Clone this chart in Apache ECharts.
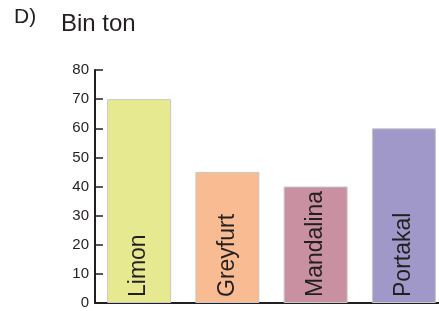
<!DOCTYPE html>
<html>
<head>
<meta charset="utf-8">
<script src="https://cdn.jsdelivr.net/npm/echarts@6/dist/echarts.min.js"></script>
<style>
  html, body { margin: 0; padding: 0; background: #fff; overflow: hidden; }
  /* the plot runs past the right edge of the picture, so the div is wider than the window */
  #chart { width: 448px; height: 311px; }
</style>
</head>
<body>
<div id="chart"></div>
<script>
// meyve adlari ve degerleri (bin ton)
var categories = ['Limon', 'Greyfurt', 'Mandalina', 'Portakal'];
var values = [70, 45, 40, 60];
var barColors = ['#e6e98f', '#f9bc92', '#c890a1', '#9f98c9'];
var yTicks = [0, 10, 20, 30, 40, 50, 60, 70, 80];

var chart = echarts.init(document.getElementById('chart'));
var ink = '#231f20';

chart.setOption({
  animation: false,
  graphic: [
    { type: 'text', left: 14, top: 7, style: { text: 'D)', font: '21px "Liberation Sans", Arial', fill: ink } },
    { type: 'text', left: 61, top: 12, style: { text: 'Bin ton', font: '24px "Liberation Sans", Arial', fill: ink } }
  ],
  grid: { left: 95, right: 0, top: 70, bottom: 8 },
  xAxis: {
    type: 'category',
    data: categories,
    axisLine: { lineStyle: { color: ink, width: 2 } },
    axisTick: { inside: true, length: 6, lineStyle: { color: ink, width: 1.5 } },
    axisLabel: { show: false }
  },
  yAxis: {
    type: 'value',
    min: yTicks[0],
    max: yTicks[yTicks.length - 1],
    interval: 10,
    axisLine: { show: true, lineStyle: { color: ink, width: 2 } },
    axisTick: { show: true, inside: true, length: 8, lineStyle: { color: ink, width: 1.5 } },
    splitLine: { show: false },
    axisLabel: { color: ink, fontSize: 15, fontFamily: '"Liberation Sans", Arial', margin: 6 }
  },
  series: [{
    type: 'bar',
    barWidth: 64,
    data: values.map(function (v, i) {
      return { value: v, itemStyle: { color: barColors[i], borderColor: '#c8c8c8', borderWidth: 1 } };
    }),
    label: {
      show: true,
      position: 'insideBottom',
      rotate: 90,
      align: 'left',
      verticalAlign: 'middle',
      distance: 6,
      formatter: '{b}',
      color: ink,
      fontSize: 23,
      fontFamily: '"Liberation Sans", Arial'
    }
  }]
});
</script>
</body>
</html>
